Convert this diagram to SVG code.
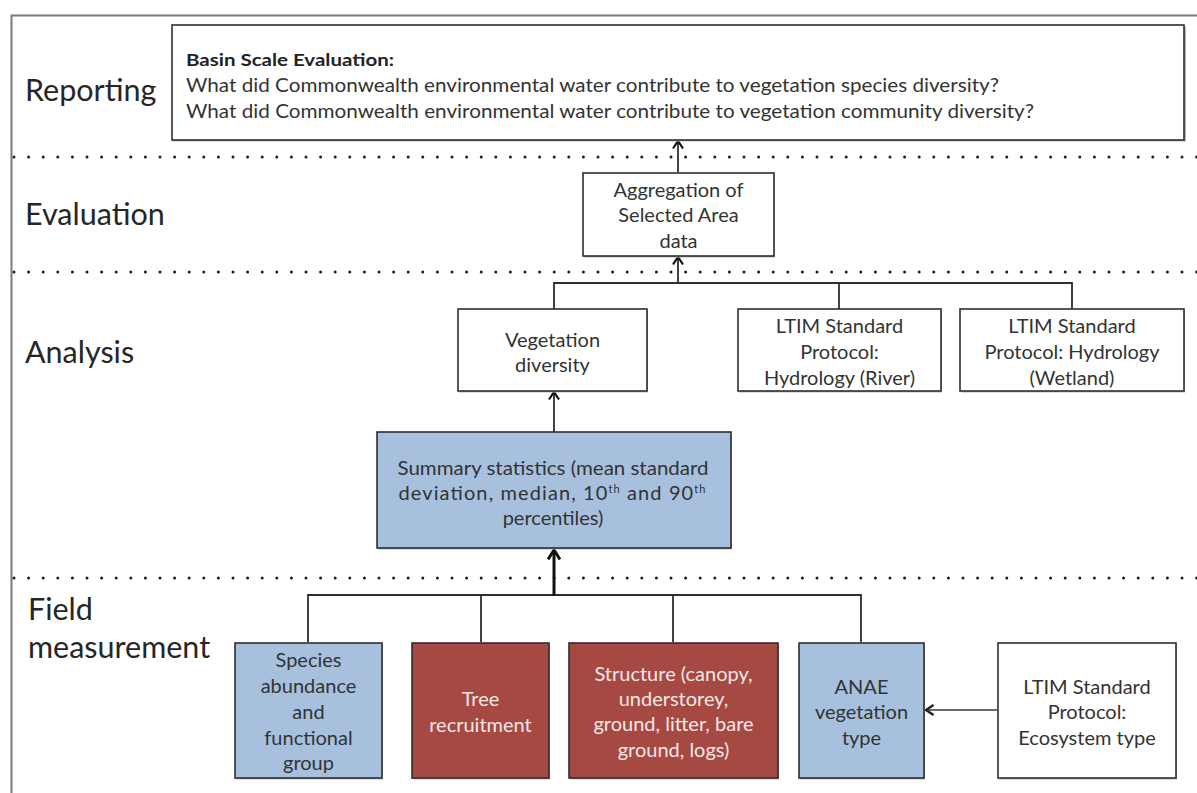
<svg xmlns="http://www.w3.org/2000/svg" width="1197" height="793" viewBox="0 0 1197 793">
  <style>
    .frame { fill: none; stroke: #7a7a7a; stroke-width: 2; }
    .dots { fill: none; stroke: #1e1e1e; stroke-width: 3; stroke-dasharray: 0 14.6; stroke-linecap: round; }
    .lane { font-family: Lato, "Open Sans", sans-serif; font-size: 30.5px; fill: #262626; }
    .box { stroke: #2e2e2e; stroke-width: 1.6; }
    .shadow { fill: #b8b8b8; }
    .white { fill: #ffffff; }
    .blue { fill: #a7c0de; }
    .red { fill: #a64943; }
    .t { font-family: Lato, "Open Sans", sans-serif; font-size: 20px; fill: #333333; text-anchor: middle; }
    .tl { font-family: Lato, "Open Sans", sans-serif; font-size: 19px; fill: #333333; }
    .b { font-weight: bold; font-size: 17px; fill: #222222; }
    .inv { fill: #f4e8e6; }
    .line { fill: none; stroke: #2e2e2e; stroke-width: 1.8; }
    .thick { fill: none; stroke: #111111; stroke-width: 3; }
    .grey { fill: none; stroke: #6a6a6a; stroke-width: 2.2; }
    .sup { font-size: 11px; }
  </style>
  <defs>
    <marker id="chev" viewBox="0 0 12 12" refX="10.5" refY="6" markerWidth="12" markerHeight="12" markerUnits="userSpaceOnUse" orient="auto">
      <path d="M3,1 L10.5,6 L3,11" fill="none" stroke="#111111" stroke-width="2.2"/>
    </marker>
    <marker id="chevBold" viewBox="0 0 14 14" refX="12.5" refY="7" markerWidth="14" markerHeight="14" markerUnits="userSpaceOnUse" orient="auto">
      <path d="M3,1 L12.5,7 L3,13" fill="none" stroke="#111111" stroke-width="3"/>
    </marker>
    <marker id="chevGrey" viewBox="0 0 12 12" refX="10.5" refY="6" markerWidth="12" markerHeight="12" markerUnits="userSpaceOnUse" orient="auto">
      <path d="M3,1 L10.5,6 L3,11" fill="none" stroke="#222222" stroke-width="2.4"/>
    </marker>
  </defs>

  <rect width="1197" height="793" fill="#ffffff"/>

  <!-- outer frame (open to the right and bottom) -->
  <path class="frame" d="M11.5,793 V15.5 H1197"/>

  <!-- lane separators -->
  <g id="separators">
    <line class="dots" x1="14" y1="157" x2="1197" y2="157"/>
    <line class="dots" x1="14" y1="272" x2="1197" y2="272"/>
    <line class="dots" x1="14" y1="578" x2="1197" y2="578"/>
  </g>

  <!-- lane labels -->
  <g id="lanes">
    <text class="lane" x="25" y="101">Reporting</text>
    <text class="lane" x="25" y="225">Evaluation</text>
    <text class="lane" x="25" y="363">Analysis</text>
    <text class="lane" x="28" y="620">Field</text>
    <text class="lane" x="28" y="658">measurement</text>
  </g>

  <!-- connectors -->
  <g id="connectors">
    <line class="line" x1="678" y1="172" x2="678" y2="141" marker-end="url(#chev)"/>
    <polyline class="line" points="554,309 554,283 1072,283 1072,309"/>
    <line class="line" x1="839" y1="283" x2="839" y2="309"/>
    <line class="line" x1="678" y1="283" x2="678" y2="257" marker-end="url(#chev)"/>
    <line class="line" x1="554" y1="432" x2="554" y2="392" marker-end="url(#chev)"/>
    <polyline class="line" points="308,642 308,595 861,595 861,642"/>
    <line class="line" x1="481" y1="595" x2="481" y2="642"/>
    <line class="line" x1="673" y1="595" x2="673" y2="642"/>
    <line class="thick" x1="554" y1="596" x2="554" y2="550" marker-end="url(#chevBold)"/>
    <line class="grey" x1="997" y1="710" x2="926" y2="710" marker-end="url(#chevGrey)"/>
  </g>

  <!-- Reporting -->
  <g id="basin-evaluation">
    <rect class="shadow" x="173" y="26.5" width="1013" height="115"/>
    <rect class="box white" x="172" y="25" width="1012" height="115"/>
    <text class="tl b" x="186" y="66" textLength="208" lengthAdjust="spacingAndGlyphs">Basin Scale Evaluation:</text>
    <text class="tl" x="186" y="92" textLength="813" lengthAdjust="spacingAndGlyphs">What did Commonwealth environmental water contribute to vegetation species diversity?</text>
    <text class="tl" x="186" y="118" textLength="848" lengthAdjust="spacingAndGlyphs">What did Commonwealth environmental water contribute to vegetation community diversity?</text>
  </g>

  <!-- Evaluation -->
  <g id="aggregation">
    <rect class="shadow" x="584" y="174.5" width="191" height="83"/>
    <rect class="box white" x="583" y="173" width="191" height="83"/>
    <text class="t" x="678.5" y="197">Aggregation of</text>
    <text class="t" x="678.5" y="222">Selected Area</text>
    <text class="t" x="678.5" y="248">data</text>
  </g>

  <!-- Analysis -->
  <g id="vegetation-diversity">
    <rect class="shadow" x="459" y="310.5" width="189" height="82"/>
    <rect class="box white" x="458" y="309" width="189" height="82"/>
    <text class="t" x="552.5" y="347">Vegetation</text>
    <text class="t" x="552.5" y="372">diversity</text>
  </g>

  <g id="hydrology-river">
    <rect class="shadow" x="739" y="310.5" width="203" height="82"/>
    <rect class="box white" x="738" y="309" width="203" height="82"/>
    <text class="t" x="839.5" y="333">LTIM Standard</text>
    <text class="t" x="839.5" y="359">Protocol:</text>
    <text class="t" x="839.5" y="385">Hydrology (River)</text>
  </g>

  <g id="hydrology-wetland">
    <rect class="shadow" x="961" y="310.5" width="224" height="82"/>
    <rect class="box white" x="960" y="309" width="224" height="82"/>
    <text class="t" x="1072" y="333">LTIM Standard</text>
    <text class="t" x="1072" y="359">Protocol: Hydrology</text>
    <text class="t" x="1072" y="385">(Wetland)</text>
  </g>

  <g id="summary-statistics">
    <rect class="shadow" x="378" y="433.5" width="354" height="116"/>
    <rect class="box blue" x="377" y="432" width="354" height="116"/>
    <text class="t" x="553" y="475" textLength="311" lengthAdjust="spacingAndGlyphs">Summary statistics (mean standard</text>
    <text class="t" x="552" y="500" textLength="307" lengthAdjust="spacing">deviation, median, 10<tspan class="sup" dy="-7">th</tspan><tspan dy="7"> and 90</tspan><tspan class="sup" dy="-7">th</tspan></text>
    <text class="t" x="553" y="525">percentiles)</text>
  </g>

  <!-- Field measurement -->
  <g id="species-abundance">
    <rect class="shadow" x="236" y="644.5" width="147" height="135"/>
    <rect class="box blue" x="235" y="643" width="147" height="135"/>
    <text class="t" x="308.5" y="667">Species</text>
    <text class="t" x="308.5" y="693">abundance</text>
    <text class="t" x="308.5" y="719">and</text>
    <text class="t" x="308.5" y="745">functional</text>
    <text class="t" x="308.5" y="770">group</text>
  </g>

  <g id="tree-recruitment">
    <rect class="shadow" x="413" y="644.5" width="137" height="135"/>
    <rect class="box red" x="412" y="643" width="137" height="135"/>
    <text class="t inv" x="480.5" y="706">Tree</text>
    <text class="t inv" x="480.5" y="732">recruitment</text>
  </g>

  <g id="structure">
    <rect class="shadow" x="570" y="644.5" width="209" height="135"/>
    <rect class="box red" x="569" y="643" width="209" height="135"/>
    <text class="t inv" x="673.5" y="681">Structure (canopy,</text>
    <text class="t inv" x="673.5" y="706">understorey,</text>
    <text class="t inv" x="673.5" y="731">ground, litter, bare</text>
    <text class="t inv" x="673.5" y="757">ground, logs)</text>
  </g>

  <g id="anae-vegetation">
    <rect class="shadow" x="800" y="644.5" width="125" height="135"/>
    <rect class="box blue" x="799" y="643" width="125" height="135"/>
    <text class="t" x="861.5" y="694">ANAE</text>
    <text class="t" x="861.5" y="719">vegetation</text>
    <text class="t" x="861.5" y="745">type</text>
  </g>

  <g id="ecosystem-type">
    <rect class="shadow" x="999" y="644.5" width="178" height="135"/>
    <rect class="box white" x="998" y="643" width="178" height="135"/>
    <text class="t" x="1087" y="694">LTIM Standard</text>
    <text class="t" x="1087" y="719">Protocol:</text>
    <text class="t" x="1087" y="745">Ecosystem type</text>
  </g>
</svg>
